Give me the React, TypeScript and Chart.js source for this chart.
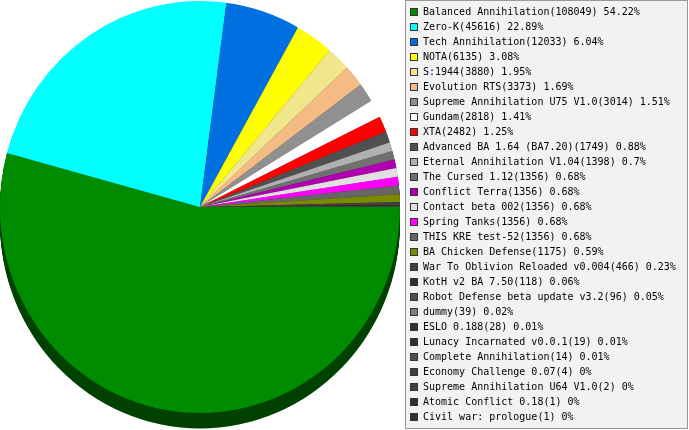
import React, { useEffect, useRef } from "react";
import { Chart, registerables } from "chart.js";

Chart.register(...registerables);

const labels: string[] = [
  "Balanced Annihilation",
  "Zero-K",
  "Tech Annihilation",
  "NOTA",
  "S:1944",
  "Evolution RTS",
  "Supreme Annihilation U75 V1.0",
  "Gundam",
  "XTA",
  "Advanced BA 1.64 (BA7.20)",
  "Eternal Annihilation V1.04",
  "The Cursed 1.12",
  "Conflict Terra",
  "Contact beta 002",
  "Spring Tanks",
  "THIS KRE test-52",
  "BA Chicken Defense",
  "War To Oblivion Reloaded v0.004",
  "KotH v2 BA 7.50",
  "Robot Defense beta update v3.2",
  "dummy",
  "ESLO 0.188",
  "Lunacy Incarnated v0.0.1",
  "Complete Annihilation",
  "Economy Challenge 0.07",
  "Supreme Annihilation U64 V1.0",
  "Atomic Conflict 0.18",
  "Civil war: prologue",
];

const values: number[] = [
  108049, 45616, 12033, 6135, 3880, 3373, 3014, 2818, 2482, 1749, 1398, 1356,
  1356, 1356, 1356, 1356, 1175, 466, 118, 96, 39, 28, 19, 14, 4, 2, 1, 1,
];

const percents: string[] = [
  "54.22", "22.89", "6.04", "3.08", "1.95", "1.69", "1.51", "1.41", "1.25",
  "0.88", "0.7", "0.68", "0.68", "0.68", "0.68", "0.68", "0.59", "0.23",
  "0.06", "0.05", "0.02", "0.01", "0.01", "0.01", "0", "0", "0", "0",
];

const colors: string[] = [
  "#008c00", "#00ffff", "#0070e0", "#ffff00", "#f0e68c", "#f4bc84",
  "#909090", "#ffffff", "#ff0000", "#505050", "#b0b0b0", "#707070",
  "#b000b0", "#e0e0e0", "#ff00ff", "#666666", "#7b8b00", "#404040",
  "#303030", "#505050", "#808080", "#303030", "#303030", "#505050",
  "#404040", "#404040", "#303030", "#303030",
];

const DEPTH = 15;
const Y_SCALE = 1.03;

function darken(hex: string, f: number): string {
  const n = parseInt(hex.slice(1), 16);
  const r = Math.round(((n >> 16) & 255) * f);
  const g = Math.round(((n >> 8) & 255) * f);
  const b = Math.round((n & 255) * f);
  return `rgb(${r},${g},${b})`;
}

const darkColors = colors.map((c) => darken(c, 0.47));

const pie3dPlugin = {
  id: "pie3d",
  beforeDatasetsDraw(chart: any) {
    const ctx = chart.ctx as CanvasRenderingContext2D;
    const meta = chart.getDatasetMeta(0);
    const el0 = meta.data[0];
    const cx = el0.x;
    const cy = el0.y;
    ctx.save();
    ctx.translate(cx, cy);
    ctx.scale(1, Y_SCALE);
    ctx.translate(-cx, -cy);
    for (let d = DEPTH; d >= 1; d--) {
      meta.data.forEach((el: any, i: number) => {
        const p = el.getProps(["startAngle", "endAngle", "outerRadius"], true);
        if (p.endAngle - p.startAngle <= 0) return;
        ctx.beginPath();
        ctx.moveTo(cx, cy + d);
        ctx.arc(cx, cy + d, p.outerRadius, p.startAngle, p.endAngle);
        ctx.closePath();
        ctx.fillStyle = darkColors[i];
        ctx.fill();
      });
    }
  },
  afterDatasetsDraw(chart: any) {
    chart.ctx.restore();
  },
};

const legendBoxPlugin = {
  id: "legendBox",
  afterDraw(chart: any) {
    const ctx = chart.ctx as CanvasRenderingContext2D;
    ctx.save();
    ctx.fillStyle = "#f2f2f2";
    ctx.fillRect(405.5, 0.5, 282, 428);
    ctx.strokeStyle = "#999999";
    ctx.lineWidth = 1;
    ctx.strokeRect(405.5, 0.5, 282, 428);
    ctx.font = '10px "DejaVu Sans Mono"';
    ctx.textBaseline = "middle";
    ctx.textAlign = "left";
    const data = chart.data.datasets[0].data as number[];
    chart.data.labels.forEach((lab: string, i: number) => {
      const y = 12 + i * 15;
      ctx.fillStyle = colors[i];
      ctx.fillRect(410.5, y - 3.5, 7, 7);
      ctx.strokeStyle = "#333333";
      ctx.strokeRect(410.5, y - 3.5, 7, 7);
      ctx.fillStyle = "#000000";
      ctx.fillText(`${lab}(${data[i]}) ${percents[i]}%`, 423, y + 0.5);
    });
    ctx.restore();
  },
};

export default function App() {
  const ref = useRef<HTMLCanvasElement | null>(null);
  useEffect(() => {
    if (!ref.current) return;
    const chart = new Chart(ref.current, {
      type: "pie",
      data: {
        labels,
        datasets: [
          {
            data: values,
            backgroundColor: colors,
            borderWidth: 0,
            clip: false as any,
          } as any,
        ],
      },
      options: {
        responsive: false,
        animation: false,
        rotation: 90,
        layout: { padding: { left: 0, right: 289, top: 7, bottom: 23 } },
        plugins: {
          legend: { display: false },
          tooltip: { enabled: false },
        },
        events: [],
      },
      plugins: [pie3dPlugin, legendBoxPlugin],
    });
    return () => chart.destroy();
  }, []);
  return (
    <div style={{ position: "fixed", left: 0, top: 0, width: 689, height: 430, background: "#ffffff" }}>
      <canvas ref={ref} width={689} height={430} />
    </div>
  );
}
